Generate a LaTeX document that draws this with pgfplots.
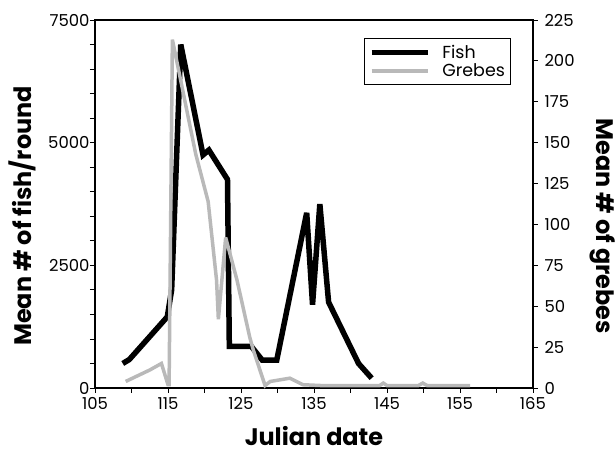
\documentclass[border=0pt]{standalone}
\usepackage{pgfplots}
\pgfplotsset{compat=1.18}
\usepackage{fontspec}
\setmainfont{Poppins}
\begin{document}
\begin{tikzpicture}
\begin{axis}[
  scale only axis, width=438bp, height=368bp,
  xmin=105, xmax=165, ymin=0, ymax=7500,
  axis line style={line width=1.6pt},
  tick style={line width=0.8pt, black},
  tick align=outside, tick pos=left,
  major tick length=5bp, minor tick length=5bp,
  xtick={105,115,...,165}, minor x tick num=1,
  ytick={0,2500,5000,7500}, minor y tick num=4,
  /pgf/number format/assume math mode=true,
  /pgf/number format/set thousands separator={},
  ticklabel style={font=\fontsize{16.5}{16.5}\selectfont},
  yticklabel style={xshift=3bp},
  xticklabel style={yshift=-1bp},
  xlabel={\bfseries Julian date},
  ylabel={\bfseries Mean \# of fish/round},
  label style={font=\fontsize{24}{24}\selectfont},
  xlabel style={at={(axis description cs:0.5,0)}, anchor=center, inner sep=0pt, yshift=-48bp},
  ylabel style={at={(axis description cs:0,0.5)}, anchor=center, xshift=-12bp, yshift=73bp},
]
\coordinate (O) at (rel axis cs:0,0);
\addplot[black, line width=5.5bp, line join=miter, miter limit=2] coordinates {
(108.8,500) (109.7,580) (114.9,1450) (115.5,2000) (116.75,7000)
(119.8,4750) (120.6,4850) (123.15,4250) (123.4,850) (126.4,850)
(127.9,570) (129.9,570) (134.0,3570) (134.8,1700) (135.8,3750)
(137.0,1750) (141.1,500) (142.9,200)
};
\end{axis}
\begin{axis}[
  scale only axis, width=438bp, height=368bp,
  xmin=105, xmax=165, ymin=0, ymax=225,
  axis x line=none, axis y line*=right,
  axis line style={line width=1.6pt},
  tick style={line width=0.8pt, black},
  tick align=outside,
  major tick length=5bp,
  ytick={0,25,...,225},
  /pgf/number format/assume math mode=true,
  ticklabel style={font=\fontsize{16.5}{16.5}\selectfont},
  yticklabel style={xshift=3bp},
  ylabel={\bfseries Mean \# of grebes},
  ylabel style={font=\fontsize{24}{24}\selectfont, at={(axis description cs:1,0.5)}, rotate=180, anchor=center, xshift=22bp, yshift=70bp},
  legend style={at={(rel axis cs:0.615,0.95)}, anchor=north west, draw=black, line width=1pt,
    font=\fontsize{17.5}{17.5}\selectfont, inner xsep=4bp, inner ysep=4bp, row sep=0bp, cells={anchor=west}},
  legend image code/.code={\draw[#1] (4bp,0bp) -- (60bp,0bp); \path (70bp,0bp);},
]
\addlegendimage{black, line width=5.5bp}
\addlegendentry{Fish}
\addplot[gray!55, line width=3.5bp, line join=miter, miter limit=3] coordinates {
(109.2,4) (112.5,11) (114.1,15) (115.0,2) (115.15,2) (115.6,213)
(118.8,143) (120.5,114) (121.65,66) (121.9,42) (122.9,92) (124.45,66)
(126.2,31) (126.7,23) (128.3,1.5) (129.0,4) (131.7,6) (132.6,4) (133.5,2)
(136,1.5) (144,1.5) (144.5,3) (145,1.5) (149.3,1.5) (149.9,3) (150.5,1.5) (156.4,1.5)
};
\addlegendentry{Grebes}
\end{axis}
\pgfresetboundingbox
\path (O) ++(-95bp,-67bp) rectangle ++(616bp,455bp);
\end{tikzpicture}
\end{document}
